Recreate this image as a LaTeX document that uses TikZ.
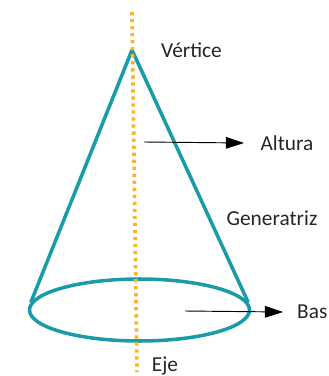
\documentclass[tikz,border=0pt]{standalone}
\usepackage{fontspec}
\setmainfont{Carlito}
\usetikzlibrary{shapes.geometric,arrows.meta}
\definecolor{conoteal}{HTML}{1A9BA8}
\definecolor{ejeorange}{HTML}{F9B52A}
\begin{document}
\begin{tikzpicture}[x=0.03cm, y=-0.03cm,
  cone/.style={draw=conoteal, line width=3pt},
  axis/.style={draw=ejeorange, line width=3.2pt, dash pattern=on 2.8pt off 3.2pt},
  pointer/.style={draw=black, line width=0.8pt, -{Triangle[length=15.5pt,width=10pt]}},
  label/.style={font=\fontsize{18.2}{20}\selectfont, text=black!85, inner sep=0pt}]
\useasboundingbox (0,0) rectangle (328,376);
\node[cone, ellipse, inner sep=0pt, minimum width=6.6cm, minimum height=1.86cm] (base) at (139.5,310) {};
\coordinate (apex) at (132,50);
\coordinate (axistop) at (132,12);
\coordinate (axisbottom) at (137,372);
\coordinate (alturastart) at (144,142);
\coordinate (basestart) at (185,311);
\draw[cone, line join=round] (base.176) -- (apex) -- (base.4);
\draw[axis] (axistop) -- (axisbottom);
\node[label] (vertice) at (191.5,50) {Vértice};
\node[label] (altura) at (287,143) {Altura};
\node[label] (generatriz) at (272,218) {Generatriz};
\node[label, anchor=west] (bas) at (297,312) {Bas};
\node[label] (eje) at (165,366) {Eje};
\coordinate (alturaend) at (244,143);
\coordinate (baseend) at (283,312);
\draw[pointer] (alturastart) -- (alturaend);
\draw[pointer] (basestart) -- (baseend);
\end{tikzpicture}
\end{document}
